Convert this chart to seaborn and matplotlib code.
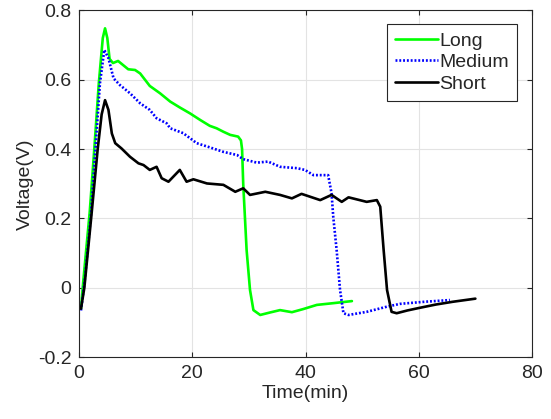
import matplotlib
matplotlib.use("Agg")
import matplotlib.pyplot as plt
import seaborn as sns
import pandas as pd

long_t = [0.35, 0.76, 1.9, 2.7, 3.5, 4.2, 4.6, 5.0, 5.4, 6.0, 6.9, 7.8, 8.7, 9.9, 10.8, 12.5, 14.3, 16.1,
          17.8, 19.6, 21.4, 23.1, 24.3, 25.5, 26.7, 28.1, 28.6, 28.8, 29.0, 29.6, 30.2, 30.8, 32.0,
          33.7, 35.5, 37.6, 39.6, 42.0, 44.9, 48.2]
long_v = [-0.06, 0.02, 0.22, 0.40, 0.59, 0.72, 0.748, 0.72, 0.66, 0.648, 0.654, 0.642, 0.63, 0.628,
          0.618, 0.582, 0.561, 0.537, 0.52, 0.503, 0.484, 0.467, 0.46, 0.45, 0.441, 0.436, 0.425,
          0.40, 0.30, 0.109, -0.006, -0.064, -0.078, -0.071, -0.064, -0.070, -0.061, -0.049, -0.044,
          -0.038]

medium_t = [0.35, 1.0, 2.1, 2.9, 3.7, 4.47, 5.2, 6.1, 7.2, 9.0, 10.8, 12.5, 13.7, 15.5, 16.1, 18.4,
            20.8, 23.1, 25.5, 27.9, 29.0, 31.4, 33.4, 35.5, 38.5, 39.9, 41.4, 44.0, 44.6, 44.9, 45.5,
            46.1, 46.7, 47.6, 50.8, 54.4, 56.7, 61.0, 65.5]
medium_v = [-0.065, 0.02, 0.21, 0.40, 0.59, 0.686, 0.662, 0.604, 0.585, 0.561, 0.532, 0.513, 0.489,
            0.474, 0.46, 0.446, 0.417, 0.405, 0.392, 0.383, 0.371, 0.361, 0.364, 0.349, 0.345, 0.34,
            0.325, 0.325, 0.273, 0.205, 0.109, -0.006, -0.073, -0.078, -0.069, -0.054, -0.046, -0.04,
            -0.035]

short_t = [0.35, 0.94, 2.2, 3.3, 4.0, 4.6, 5.2, 5.8, 6.4, 7.5, 9.0, 10.5, 11.4, 12.5, 13.7, 14.6, 15.8,
           17.8, 19.0, 20.2, 22.6, 25.5, 27.6, 29.0, 30.2, 32.9, 35.5, 37.6, 39.3, 42.6, 44.6, 46.4,
           47.6, 50.8, 52.6, 53.2, 53.8, 54.4, 55.2, 56.1, 58.0, 60.0, 63.0, 66.0, 70.0]
short_v = [-0.06, 0.0, 0.21, 0.40, 0.50, 0.541, 0.513, 0.445, 0.417, 0.402, 0.378, 0.359, 0.354, 0.34,
           0.349, 0.316, 0.306, 0.34, 0.306, 0.313, 0.301, 0.297, 0.277, 0.287, 0.268, 0.277, 0.268,
           0.258, 0.271, 0.253, 0.268, 0.248, 0.261, 0.248, 0.253, 0.234, 0.109, -0.006, -0.069,
           -0.073, -0.065, -0.058, -0.048, -0.040, -0.031]

series_names = ["Long", "Medium", "Short"]
x_ticks = [0, 20, 40, 60, 80]
y_ticks = [-0.2, 0, 0.2, 0.4, 0.6, 0.8]
y_tick_labels = ["-0.2", "0", "0.2", "0.4", "0.6", "0.8"]

sns.set_theme(style="whitegrid")
plt.rcParams['font.family'] = ['Liberation Sans', 'DejaVu Sans']

fig = plt.figure(figsize=(5.51, 4.19), dpi=100)
ax = fig.add_axes([79/551, 1-357.3/419, (532-79)/551, (357.3-10.3)/419])

dfs = [pd.DataFrame({"t": long_t, "v": long_v}),
       pd.DataFrame({"t": medium_t, "v": medium_v}),
       pd.DataFrame({"t": short_t, "v": short_v})]
colors = ["#00ff00", "#0000ff", "#000000"]

for df, name, c in zip(dfs, series_names, colors):
    sns.lineplot(data=df, x="t", y="v", ax=ax, color=c, label=name, sort=False,
                 estimator=None, linewidth=1.9)

ax.lines[1].set_dashes([0.72, 0.72])
ax.lines[1].set_dash_capstyle("butt")

ax.set_xlim(0, 80)
ax.set_ylim(-0.2, 0.8)
ax.set_xticks(x_ticks)
ax.set_yticks(y_ticks)
ax.set_yticklabels(y_tick_labels)
ax.set_xlabel("Time(min)", fontsize=14, color="#262626", labelpad=2)
ax.set_ylabel("Voltage(V)", fontsize=14, color="#262626", labelpad=3)

ax.grid(True, color="#e3e3e3", linewidth=0.8)
ax.set_facecolor("white")
for s in ax.spines.values():
    s.set_visible(True)
    s.set_color("#262626")
    s.set_linewidth(0.8)
ax.tick_params(axis="both", which="both", direction="in", length=3.5, width=0.8,
               color="#262626", labelsize=14, labelcolor="#262626",
               top=True, right=True, bottom=True, left=True, pad=5.5)

leg = ax.legend(loc="upper right", bbox_to_anchor=(0.9675, 0.9605), fontsize=14, frameon=True,
                fancybox=False, framealpha=1, edgecolor="#262626", handlelength=2.2,
                handletextpad=0.1, borderpad=0.42, labelspacing=0.2, borderaxespad=0)
leg.get_frame().set_linewidth(0.8)

fig.savefig("out.png", dpi=100)
